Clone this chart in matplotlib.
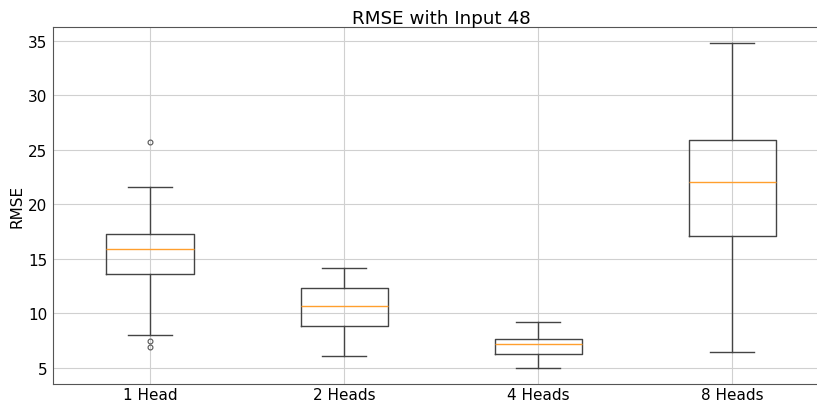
import numpy as np
import matplotlib.pyplot as plt

# box statistics
labels = ['1 Head', '2 Heads', '4 Heads', '8 Heads']
whislo = [8.03, 6.07, 5.0, 6.44]
q1 = [13.59, 8.85, 6.25, 17.13]
med = [15.94, 10.71, 7.2, 22.08]
q3 = [17.31, 12.33, 7.66, 25.9]
whishi = [21.62, 14.19, 9.24, 34.79]
fliers = [[25.72, 7.45, 6.9], [], [], []]

stats = []
for i in range(len(labels)):
    stats.append({'label': labels[i], 'whislo': whislo[i], 'q1': q1[i],
                  'med': med[i], 'q3': q3[i], 'whishi': whishi[i],
                  'fliers': fliers[i]})

fig = plt.figure(figsize=(8.17, 4.06), dpi=100)
ax = fig.add_axes([0.065, 0.052, 0.95, 0.879])

line_col = '#444444'
ax.bxp(stats, widths=0.45,
       boxprops=dict(color=line_col, linewidth=1.0),
       whiskerprops=dict(color=line_col, linewidth=1.0),
       capprops=dict(color=line_col, linewidth=1.0),
       medianprops=dict(color='#ff9f2e', linewidth=1.0),
       flierprops=dict(marker='o', markersize=3.5, markerfacecolor='none',
                       markeredgecolor='#555555', markeredgewidth=0.8))

ax.set_xlim(0.5, 4.5)
ax.set_ylim(3.53, 36.25)
ax.grid(True, color='#d0d0d0', linewidth=0.8)
ax.set_axisbelow(True)
ax.set_title('RMSE with Input 48', fontsize=13.2, pad=3)
ax.set_ylabel('RMSE', fontsize=11, labelpad=3)
ax.tick_params(axis='y', labelsize=11, length=0, pad=4)
ax.tick_params(axis='x', labelsize=11, length=0, pad=2)
for s in ax.spines.values():
    s.set_color('#555555')

fig.savefig('out.png', dpi=100)
